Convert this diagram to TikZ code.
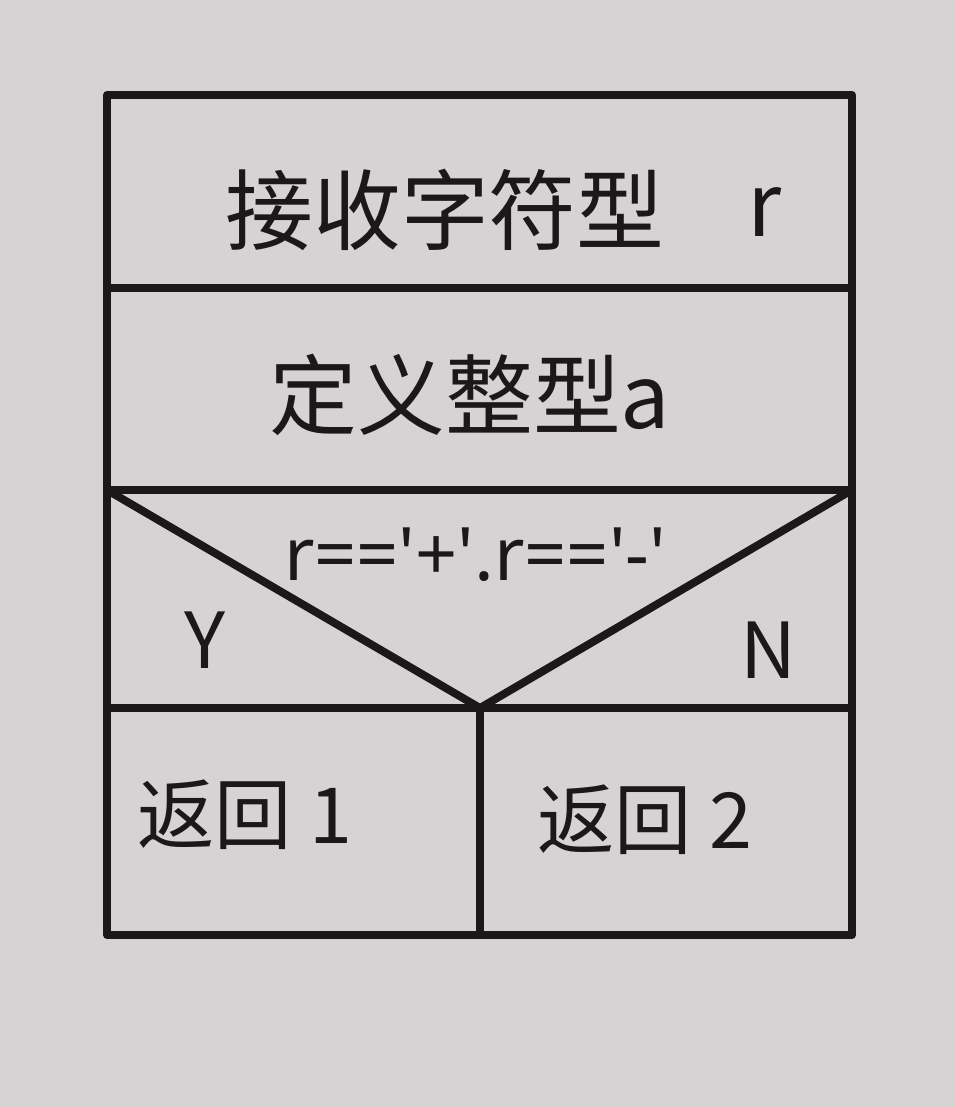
\documentclass[tikz,border=0pt]{standalone}
\usepackage{fontspec}
\setmainfont{Noto Sans CJK SC}
\newfontfamily\condfont{Noto Sans}
\usetikzlibrary{positioning,calc}
\definecolor{PaperGray}{RGB}{214,211,212}
\definecolor{InkBlack}{RGB}{28,24,25}
\newcommand{\apos}{\symbol{39}}
\tikzset{
  frame/.style={draw=InkBlack,line width=4.5pt,line cap=round,line join=round},
  bigtext/.style={text=InkBlack,font=\fontsize{50}{54}\selectfont,inner sep=0pt},
  condtext/.style={text=InkBlack,font=\condfont\fontsize{42}{46}\selectfont,inner sep=0pt},
  branchtext/.style={text=InkBlack,font=\fontsize{44}{48}\selectfont,inner sep=0pt}
}

\begin{document}
\begin{tikzpicture}[x=0.02cm,y=-0.02cm]
  \useasboundingbox[fill=PaperGray] (0,0) rectangle (955,1107);
  % outline points
  \coordinate (tl) at (107,95);
  \coordinate (br) at (852,935);
  \coordinate (inL) at (107,288);
  \coordinate (inR) at (852,288);
  \coordinate (defL) at (107,490);
  \coordinate (defR) at (852,490);
  \coordinate (condL) at (107,708);
  \coordinate (condR) at (852,708);
  \coordinate (condV) at (480,708);
  \coordinate (divB) at (480,935);
  % blocks
  \draw[frame] (tl) rectangle (br);
  \draw[frame] (inL) -- (inR);
  \draw[frame] (defL) -- (defR);
  \draw[frame] (condL) -- (condR);
  \draw[frame] (defL) -- (condV) -- (defR);
  \draw[frame] (condV) -- (divB);
  % texts
  \node[bigtext] (input) at (445,210) {接收字符型};
  \node[bigtext] (inVar) at (765,212) {r};
  \node[bigtext] (define) at (470,395) {定义整型a};
  \node[condtext] (cond) at (475,555) {r==\apos+\apos.r==\apos-\apos};
  \node[branchtext] (yes) at (205,640) {Y};
  \node[branchtext] (no) at (768,650) {N};
  \node[branchtext] (ret1) at (245,815) {返回 1};
  \node[branchtext] (ret2) at (645,820) {返回 2};
\end{tikzpicture}
\end{document}
